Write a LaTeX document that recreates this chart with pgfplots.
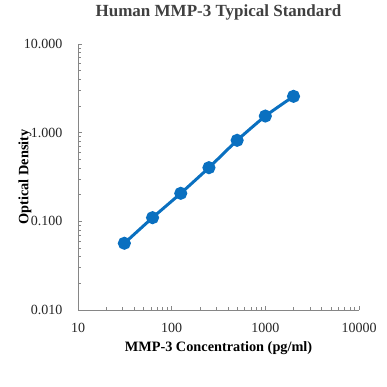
\documentclass[border=0pt]{standalone}
\usepackage{pgfplots}
\pgfplotsset{compat=1.18}
\usepackage{fontspec}
\setmainfont{Liberation Serif}
\definecolor{lineblue}{HTML}{0A70C0}
\definecolor{axgray}{HTML}{868686}
\definecolor{titlegray}{HTML}{404040}
\begin{document}
\begin{tikzpicture}
\useasboundingbox (-78pt,-76pt) rectangle (309pt,310pt);
\begin{axis}[
  scale only axis,
  width=281pt, height=266pt,
  xmode=log, ymode=log,
  xmin=10, xmax=10000, ymin=0.01, ymax=10,
  axis x line*=bottom, axis y line*=left,
  axis line style={axgray, line width=0.8pt},
  xtick={10,100,1000,10000},
  xticklabels={10,100,1000,10000},
  ytick={0.01,0.1,1,10},
  yticklabels={0.010,0.100,1.000,10.000},
  tick style={axgray, line width=0.6pt},
  major tick length=4.5pt, minor tick length=3pt,
  tick align=inside,
  ticklabel style={font=\fontsize{14}{14}\selectfont, text=black!85},
  xticklabel style={yshift=-10pt},
  yticklabel style={xshift=-12pt},
  title={\textbf{Human MMP-3 Typical Standard}},
  title style={font=\fontsize{17}{17}\selectfont, text=titlegray, at={(axis description cs:0.5,1)}, anchor=center, yshift=26pt},
  xlabel={\textbf{MMP-3 Concentration (pg/ml)}},
  xlabel style={font=\fontsize{14.3}{14.3}\selectfont, at={(axis description cs:0.5,0)}, anchor=center, yshift=-38pt},
  ylabel={\textbf{Optical Density}},
  ylabel style={font=\fontsize{14.3}{14.3}\selectfont, at={(axis description cs:-0.1886,0.5)}, anchor=center},
  clip=false,
]
\addplot[lineblue, line width=3pt, smooth, tension=0.3, mark=*, mark size=5pt, mark options={fill=lineblue, draw=none}]
  coordinates {(31.25,0.0566) (62.5,0.110) (125,0.207) (250,0.403) (500,0.820) (1000,1.54) (2000,2.57)};
\end{axis}
\end{tikzpicture}
\end{document}
